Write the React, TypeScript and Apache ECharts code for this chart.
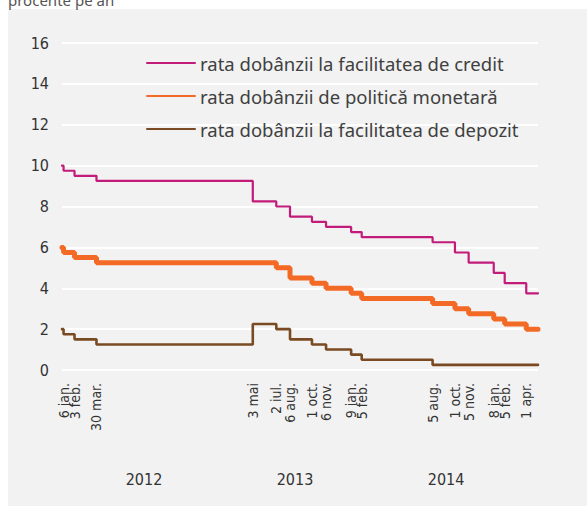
import React, { useEffect, useRef } from "react";
import * as echarts from "echarts";

// ---- data ----
const startDate = "2012-01-02";
const endDate = "2015-05-01";
const changeDates = [
  "2012-01-06", "2012-02-03", "2012-03-30",
  "2013-05-03", "2013-07-02", "2013-08-06", "2013-10-01", "2013-11-06",
  "2014-01-09", "2014-02-05", "2014-08-05", "2014-10-01", "2014-11-05",
  "2015-01-08", "2015-02-05", "2015-04-01",
];
const tickLabels = [
  "6 jan.", "3 feb.", "30 mar.",
  "3 mai", "2 iul.", "6 aug.", "1 oct.", "6 nov.",
  "9 ian.", "5 feb.", "5 aug.", "1 oct.", "5 nov.",
  "8 ian.", "5 feb.", "1 apr.",
];
// value at start, then value after each change date
const creditRates = [10, 9.75, 9.5, 9.25, 8.25, 8.0, 7.5, 7.25, 7.0, 6.75, 6.5, 6.25, 5.75, 5.25, 4.75, 4.25, 3.75];
const policyRates = [6.0, 5.75, 5.5, 5.25, 5.25, 5.0, 4.5, 4.25, 4.0, 3.75, 3.5, 3.25, 3.0, 2.75, 2.5, 2.25, 2.0];
const depositRates = [2.0, 1.75, 1.5, 1.25, 2.25, 2.0, 1.5, 1.25, 1.0, 0.75, 0.5, 0.25, 0.25, 0.25, 0.25, 0.25, 0.25];
const yearLabels = [2012, 2013, 2014];
const seriesNames = [
  "rata dobânzii la facilitatea de credit",
  "rata dobânzii de politică monetară",
  "rata dobânzii la facilitatea de depozit",
];
const yTicks = { min: 0, max: 16, interval: 2 };

const DAY = 86400000;
function dayNum(s: string): number {
  const [y, m, d] = s.split("-").map(Number);
  return Math.round(Date.UTC(y, m - 1, d) / DAY);
}

const allDates = [startDate, ...changeDates, endDate].map(dayNum);
function buildSeries(rates: number[]) {
  const vals = [...rates, rates[rates.length - 1]];
  return allDates.map((t, i) => [t, vals[i]]);
}

const labelMap = new Map<number, string>();
changeDates.forEach((d, i) => labelMap.set(dayNum(d), tickLabels[i]));

const condensed = "'Liberation Sans Narrow', 'DejaVu Sans Condensed', sans-serif";
const regular = "'Noto Sans', 'Open Sans', sans-serif";

function dateAxis(values: number[]) {
  return {
    type: "value",
    min: dayNum(startDate),
    max: dayNum(endDate),
    position: "bottom",
    axisLine: { show: false },
    axisTick: { show: false },
    splitLine: { show: false },
    axisLabel: {
      customValues: values,
      formatter: (v: number) => labelMap.get(v) ?? "",
      rotate: 90,
      margin: 13,
      fontSize: 14,
      color: "#333",
      fontFamily: condensed,
      hideOverlap: false,
      showMinLabel: true,
      showMaxLabel: true,
    },
  };
}

export default function App() {
  const ref = useRef<HTMLDivElement>(null);
  useEffect(() => {
    if (!ref.current) return;
    const chart = echarts.init(ref.current, undefined, { renderer: "svg" });
    const colors = ["#c21b7a", "#f26a25", "#7a4a22"];
    const widths = [2.2, 5, 2.6];
    const rates = [creditRates, policyRates, depositRates];
    const tickVals = changeDates.map(dayNum);
    chart.setOption({
      animation: false,
      backgroundColor: "#ffffff",
      graphic: [
        { type: "rect", z: -10, shape: { x: 8, y: 9, width: 579, height: 497 }, style: { fill: "#f2f2f2" } },
        { type: "text", x: 8, y: 7, style: { text: "procente pe an", fontSize: 15, fontFamily: regular, fill: "#555", verticalAlign: "bottom" } },
      ],
      grid: { left: 62, right: 49, top: 43, bottom: 138, containLabel: false },
      legend: {
        data: seriesNames,
        orient: "vertical",
        left: 141,
        top: 48,
        itemWidth: 48,
        itemHeight: 14,
        itemGap: 13,
        itemStyle: { opacity: 0 },
        textStyle: { fontSize: 18.5, lineHeight: 20, color: "#404040", fontFamily: regular },
      },
      xAxis: [
        dateAxis(tickVals.filter((_, i) => i % 2 === 0)),
        {
          type: "value",
          min: 2011.457,
          max: 2014.609,
          position: "bottom",
          axisLine: { show: false },
          axisTick: { show: false },
          splitLine: { show: false },
          axisLabel: {
            customValues: yearLabels,
            formatter: (v: number) => String(v),
            margin: 101,
            fontSize: 16,
            color: "#333",
            fontFamily: condensed,
          },
        },
        dateAxis(tickVals.filter((_, i) => i % 2 === 1)),
      ],
      yAxis: {
        type: "value",
        min: yTicks.min,
        max: yTicks.max,
        interval: yTicks.interval,
        axisLine: { show: false },
        axisTick: { show: false },
        splitLine: { lineStyle: { color: "#ffffff", width: 2 } },
        axisLabel: { fontSize: 16, color: "#333", margin: 13, fontFamily: condensed },
      },
      series: seriesNames.map((name, i) => ({
        name,
        type: "line",
        step: "end",
        symbol: "none",
        xAxisIndex: 0,
        data: buildSeries(rates[i]),
        color: colors[i],
        lineStyle: { color: colors[i], width: widths[i], cap: "round" },
        z: 3 - i,
      })),
    });
    return () => chart.dispose();
  }, []);
  return (
    <div
      ref={ref}
      style={{ position: "fixed", left: 0, top: 0, width: 587, height: 508 }}
    />
  );
}
